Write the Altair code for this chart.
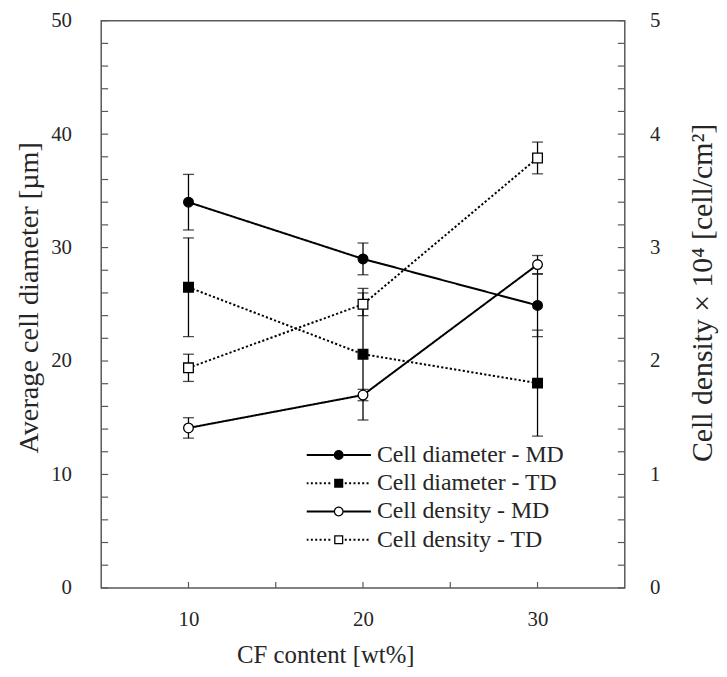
import altair as alt
import pandas as pd

# ---------------- data ----------------
series = ["Cell diameter - MD", "Cell diameter - TD", "Cell density - MD", "Cell density - TD"]
cf = [10, 20, 30]
diam_md = [34.0, 29.0, 24.9]
diam_md_err = [2.45, 1.4, 2.75]
diam_td = [26.5, 20.6, 18.05]
diam_td_err = [4.35, 5.8, 4.67]
dens_md = [1.41, 1.70, 2.85]
dens_md_err = [0.09, 0.05, 0.08]
dens_td = [1.94, 2.50, 3.79]
dens_td_err = [0.12, 0.10, 0.14]

left_ticks = list(range(0, 51, 2))
right_ticks = [round(i * 0.2, 1) for i in range(0, 26)]
x_ticks = [10, 15, 20, 25, 30]

shapes = {"Cell diameter - MD": "circle", "Cell diameter - TD": "square",
          "Cell density - MD": "circle", "Cell density - TD": "square"}
fills = {"Cell diameter - MD": "black", "Cell diameter - TD": "black",
         "Cell density - MD": "white", "Cell density - TD": "white"}


def frame(name, vals, errs):
    return pd.DataFrame({
        "series": name, "cf": cf, "v": vals,
        "lo": [a - b for a, b in zip(vals, errs)],
        "hi": [a + b for a, b in zip(vals, errs)],
        "shp": shapes[name], "fc": fills[name],
    })


diam = pd.concat([frame(series[0], diam_md, diam_md_err),
                  frame(series[1], diam_td, diam_td_err)])
dens = pd.concat([frame(series[2], dens_md, dens_md_err),
                  frame(series[3], dens_td, dens_td_err)])

W, H = 528, 572
FONT = "Liberation Serif"
TXT = "#262626"
FRAME = "#595959"

scX = alt.Scale(domain=[5, 35], nice=False)
axisX = alt.Axis(values=[10, 20, 30], title="CF content [wt%]",
                 titleX=226, titleY=67, titleBaseline="middle",
                 titleAlign="center", labelPadding=21)

axisL = alt.Axis(values=[0, 10, 20, 30, 40, 50], orient="left",
                 title="Average cell diameter [µm]", labelPadding=30,
                 titleAngle=270, titleX=-73, titleY=279, titleFontSize=28.5,
                 titleBaseline="middle", titleAlign="center")
axisR = alt.Axis(values=[0, 1, 2, 3, 4, 5], orient="right",
                 title="Cell density × 10⁴ [cell/cm²]", labelPadding=25,
                 titleAngle=270, titleX=78, titleY=274, titleFontSize=30,
                 titleBaseline="middle", titleAlign="center")
scL = alt.Scale(domain=[0, 50], nice=False)
scR = alt.Scale(domain=[0, 5], nice=False)

x_enc = alt.X("cf:Q", scale=scX, axis=axisX)

dash = alt.StrokeDash("series:N", scale=alt.Scale(domain=series,
                      range=[[1, 0], [2.2, 2.2], [1, 0], [2.2, 2.2]]), legend=None)


def group(df, sc, ax, ticks, tick_x):
    base = alt.Chart(df)
    lines = base.mark_line(color="black", strokeWidth=2).encode(
        x=x_enc, y=alt.Y("v:Q", scale=sc, axis=ax), strokeDash=dash, detail="series:N")
    err = base.mark_rule(color="black", strokeWidth=1.3).encode(
        x=x_enc, y=alt.Y("lo:Q", scale=sc, axis=ax), y2="hi:Q")
    cap_lo = base.mark_tick(orient="horizontal", color="black", size=11, thickness=1.3).encode(
        x=x_enc, y=alt.Y("lo:Q", scale=sc, axis=ax))
    cap_hi = base.mark_tick(orient="horizontal", color="black", size=11, thickness=1.3).encode(
        x=x_enc, y=alt.Y("hi:Q", scale=sc, axis=ax))
    pts = base.mark_point(stroke="black", strokeWidth=1.3, size=95, opacity=1).encode(
        x=x_enc, y=alt.Y("v:Q", scale=sc, axis=ax),
        shape=alt.Shape("shp:N", scale=None), fill=alt.Fill("fc:N", scale=None))
    tk = alt.Chart(pd.DataFrame({"t": ticks})).mark_rule(color=FRAME, strokeWidth=1.2).encode(
        y=alt.Y("t:Q", scale=sc, axis=ax), x=alt.value(tick_x[0]), x2=alt.value(tick_x[1]))
    return alt.layer(lines, err, cap_lo, cap_hi, pts, tk)


left = group(diam, scL, axisL, left_ticks, (0, 7))
right = group(dens, scR, axisR, right_ticks, (W - 7, W))

xt = alt.Chart(pd.DataFrame({"t": x_ticks})).mark_rule(color=FRAME, strokeWidth=1.2).encode(
    x=alt.X("t:Q", scale=scX, axis=axisX),
    y=alt.value(H - 6), y2=alt.value(H))


# legend symbols: line sample + marker drawn as filled custom paths
# (unit box -1..1 maps to the 65 px symbol width)
U = 32.5


def u(px):
    return round(px / U, 4)


def rect(x0, x1, h):
    return f"M{x0},{-h}L{x1},{-h}L{x1},{h}L{x0},{h}Z"


def disc(r):
    return f"M{r},0A{r},{r} 0 1,1 {-r},0A{r},{r} 0 1,1 {r},0Z"


def ring(r, ri):
    return disc(r) + f"M{ri},0A{ri},{ri} 0 1,0 {-ri},0A{ri},{ri} 0 1,0 {ri},0Z"


def sq(s):
    return f"M{-s},{-s}L{s},{-s}L{s},{s}L{-s},{s}Z"


def sq_ring(s, t):
    return sq(s) + f"M{-t},{-t}L{-t},{t}L{t},{t}L{t},{-t}Z"


def solid(g):
    h = u(1.0)
    return rect(-1, -g, h) + rect(g, 1, h)


def dotted(g):
    h = u(1.0)
    d = u(2.0)
    step = u(4.4)
    parts = []
    p = -1.0
    while p + d <= -g:
        parts.append(rect(round(p, 4), round(p + d, 4), h))
        p += step
    p = g + u(1.5)
    while p + d <= 1.0:
        parts.append(rect(round(p, 4), round(p + d, 4), h))
        p += step
    return "".join(parts)


R, RI = u(5.0), u(3.7)
S, SI = u(4.6), u(3.3)
paths = [solid(R) + disc(R), dotted(S) + sq(S),
         solid(R) + ring(R, RI), dotted(S) + sq_ring(S, SI)]

leg_props = dict(title=None, orient="none", legendX=207, legendY=424,
                 symbolSize=4225, symbolOpacity=1, symbolStrokeWidth=0,
                 clipHeight=28, rowPadding=0.5, labelOffset=6, labelLimit=400,
                 labelFont=FONT, labelFontSize=24, labelColor=TXT, padding=0)

leg = alt.Chart(pd.DataFrame({"series": series})).mark_point(
    strokeWidth=0, size=0, opacity=1).encode(
    x=alt.value(-500), y=alt.value(-500),
    shape=alt.Shape("series:N", scale=alt.Scale(domain=series, range=paths),
                    legend=alt.Legend(**leg_props)),
    fill=alt.Fill("series:N", scale=alt.Scale(domain=series,
                  range=["black", "black", "black", "black"]),
                  legend=alt.Legend(**leg_props)),
)

chart = alt.layer(left, right, xt, leg).resolve_scale(
    y="independent", shape="independent", fill="independent").properties(
    width=W, height=H,
    autosize=alt.AutoSizeParams(type="none"),
    padding={"left": 94, "top": 10, "right": 95, "bottom": 79},
    background="white",
).configure_view(stroke=FRAME, strokeWidth=1.5).configure_axis(
    grid=False, ticks=False, domain=False,
    labelFont=FONT, labelFontSize=21, labelColor=TXT,
    titleFont=FONT, titleFontSize=25, titleColor=TXT, titleFontWeight="normal",
)

chart.save("out.html", embed_options={"renderer": "svg", "actions": False})
